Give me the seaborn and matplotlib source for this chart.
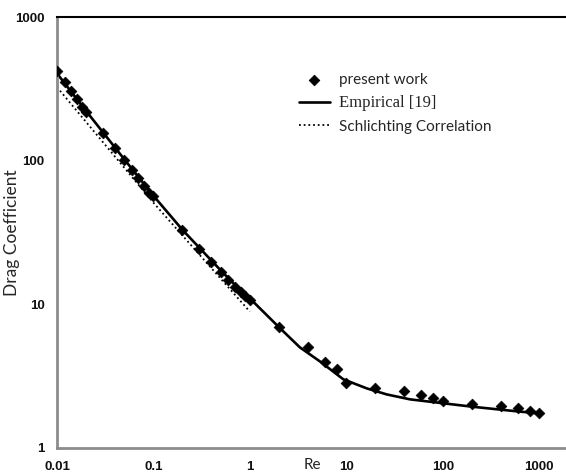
import numpy as np
import pandas as pd
import matplotlib
matplotlib.use('Agg')
import matplotlib.pyplot as plt
import seaborn as sns

# present work (diamonds)
re_pts = [0.01, 0.012, 0.014, 0.016, 0.018, 0.02, 0.03, 0.04, 0.05, 0.06, 0.07, 0.08, 0.09, 0.1,
          0.2, 0.3, 0.4, 0.5, 0.6, 0.7, 0.8, 0.9, 1.0, 2, 4, 6, 8, 10, 20, 40, 60, 80, 100,
          200, 400, 600, 800, 1000]
cd_pts = [418, 354, 305, 267, 237, 217, 156, 122, 101, 86, 76, 66.6, 60, 57,
          32.9, 24.3, 19.8, 16.9, 14.8, 13.1, 12.2, 11.4, 10.7, 7.0, 5.02, 4.0, 3.53, 2.85, 2.63, 2.5, 2.33, 2.24, 2.11,
          2.01, 1.96, 1.91, 1.82, 1.76]

# Empirical [19]
re_emp = [0.01, 0.02, 0.05, 0.1, 0.2, 0.5, 0.79, 1.0, 1.9, 3.3, 5.35, 9.3, 16.3, 26.3, 46, 100, 200, 500, 1000]
cd_emp = [405, 222, 102, 57, 33, 17.2, 12.6, 11.0, 7.18, 5.02, 4.0, 3.01, 2.6, 2.36, 2.18, 2.05, 1.94, 1.82, 1.74]

# Schlichting correlation
re_sch = [0.01, 0.1, 1.0]
cd_sch = [325, 51, 8.9]

df_pts = pd.DataFrame({'Re': re_pts, 'Cd': cd_pts})
df_emp = pd.DataFrame({'Re': re_emp, 'Cd': cd_emp})
df_sch = pd.DataFrame({'Re': re_sch, 'Cd': cd_sch})

sns.set_style('white')
plt.rcParams['font.family'] = ['Lato', 'DejaVu Sans']

fig = plt.figure(figsize=(5.66, 4.74), dpi=100)
ax = fig.add_axes([57 / 566, 1 - 448 / 474, 509 / 566, 431 / 474])

sns.lineplot(data=df_sch, x='Re', y='Cd', ax=ax, color='black', linewidth=1.3,
             linestyle=(0, (1, 1.6)), label='Schlichting Correlation', sort=False)
sns.lineplot(data=df_emp, x='Re', y='Cd', ax=ax, color='black', linewidth=1.9,
             label='Empirical [19]', sort=False)
sns.scatterplot(data=df_pts, x='Re', y='Cd', ax=ax, marker='D', s=30, color='black',
                edgecolor='black', linewidth=0.5, label='present work', zorder=5)

ax.set_xscale('log')
ax.set_yscale('log')
ax.set_xlim(0.01, 1900)
ax.set_ylim(1, 1000)
tick_font = dict(family='Liberation Sans', weight='bold', size=9.5)
ax.set_xticks([0.01, 0.1, 1, 10, 100, 1000])
ax.set_xticklabels(['0.01', '0.1', '1', '10', '100', '1000'], fontdict=tick_font)
ax.set_yticks([1, 10, 100, 1000])
ax.set_yticklabels(['1', '10', '100', '1000'], fontdict=tick_font)
ax.minorticks_off()
ax.tick_params(axis='both', which='major', direction='out', length=4, width=1.2,
               color='#8c8c8c', pad=5, labelcolor='#111111')

ax.spines['right'].set_visible(False)
ax.spines['left'].set_color('#8c8c8c')
ax.spines['left'].set_linewidth(2)
ax.spines['bottom'].set_color('#8c8c8c')
ax.spines['bottom'].set_linewidth(2)
ax.spines['top'].set_color('black')
ax.spines['top'].set_linewidth(1.5)

ax.set_xlabel('Re', fontsize=11, va='center')
ax.xaxis.set_label_coords(0.501, -0.039)
ax.set_ylabel('Drag Coefficient', fontsize=12.5)
ax.yaxis.set_label_coords(-0.072, 0.5)

handles, labels = ax.get_legend_handles_labels()
order = [labels.index('present work'), labels.index('Empirical [19]'), labels.index('Schlichting Correlation')]
leg = ax.legend([handles[i] for i in order], [labels[i] for i in order],
                loc='upper left', bbox_to_anchor=(299 / 566, 1 - 73 / 474),
                bbox_transform=fig.transFigure, frameon=False, fontsize=11,
                borderaxespad=0, borderpad=0, handlelength=2.0, handletextpad=0.6,
                labelspacing=0.55)
for t in leg.get_texts():
    if t.get_text() == 'Empirical [19]':
        t.set_fontfamily('Liberation Serif')
        t.set_fontsize(12)

fig.savefig('out.png', dpi=100)
